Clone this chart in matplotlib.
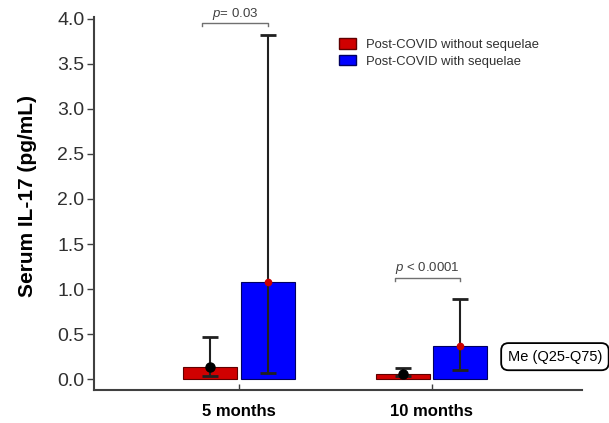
import matplotlib
matplotlib.use('Agg')
import matplotlib.pyplot as plt
from matplotlib.patches import Patch
import numpy as np

plt.rcParams['font.family'] = ['Liberation Sans', 'DejaVu Sans']
plt.rcParams['mathtext.fontset'] = 'custom'
plt.rcParams['mathtext.it'] = 'Liberation Sans:italic'
plt.rcParams['mathtext.rm'] = 'Liberation Sans'

# data: median (bar), Q25 and Q75 (error bars)
groups = ['5 months', '10 months']
series = ['Post-COVID without sequelae', 'Post-COVID with sequelae']
median_without = [0.14, 0.06]
q25_without = [0.03, 0.03]
q75_without = [0.47, 0.12]
median_with = [1.08, 0.37]
q25_with = [0.07, 0.10]
q75_with = [3.82, 0.89]
p_labels = ['$p$= 0.03', '$p$ < 0.0001']
yticks = [0.0, 0.5, 1.0, 1.5, 2.0, 2.5, 3.0, 3.5, 4.0]

red = '#d00000'
blue = '#0000ff'
gray = '#404040'

fig = plt.figure(figsize=(6.09, 4.23), dpi=100)
ax = fig.add_axes([94/609, 1-390/423, (582-94)/609, (390-17)/423])

x = np.arange(len(groups))
off = 0.15
w = 0.28

ax.bar(x - off, median_without, w, color=red, edgecolor='#600000', linewidth=0.8, zorder=2)
ax.bar(x + off, median_with, w, color=blue, edgecolor='#000060', linewidth=0.8, zorder=2)

err_wo = [np.array(median_without) - np.array(q25_without), np.array(q75_without) - np.array(median_without)]
err_w = [np.array(median_with) - np.array(q25_with), np.array(q75_with) - np.array(median_with)]
ax.errorbar(x - off, median_without, yerr=err_wo, fmt='o', color='black', ms=6.5,
            ecolor='#202020', elinewidth=1.5, capsize=6, capthick=2, zorder=3)
ax.errorbar(x + off, median_with, yerr=err_w, fmt='none',
            ecolor='#202020', elinewidth=1.5, capsize=6, capthick=2, zorder=3)
ax.plot(x + off, median_with, 'o', color='#cc0000', ms=4.5, zorder=4)

ax.set_xlim(-0.75, 1.78)
ax.set_ylim(-0.12, 4.02)
ax.set_yticks(yticks)
ax.set_yticklabels(['%.1f' % t for t in yticks], fontsize=14, color='#303030')
ax.set_xticks(x)
ax.set_xticklabels(groups, fontsize=12, fontweight='bold')
ax.tick_params(axis='y', direction='out', length=5, width=1, color=gray, pad=2)
ax.tick_params(axis='x', direction='in', length=4, width=1, color=gray, pad=10)
for s in ['top', 'right']:
    ax.spines[s].set_visible(False)
for s in ['left', 'bottom']:
    ax.spines[s].set_color(gray)
    ax.spines[s].set_linewidth(1.5)
ax.set_ylabel('Serum IL-17 (pg/mL)', fontsize=15, fontweight='bold')
ax.yaxis.set_label_coords(-0.117, 0.52)

# p-value brackets
for i, (lab, top) in enumerate(zip(p_labels, [3.95, 1.12])):
    x0, x1 = x[i] - 0.19, x[i] + 0.15
    ax.plot([x0, x0, x1, x1], [top - 0.03, top, top, top - 0.03], color='#707070', lw=1, clip_on=False)
    ax.text((x0 + x1) / 2, top + 0.02, lab, ha='center', va='bottom', fontsize=9.5, color='#404040')

handles = [Patch(facecolor=red, edgecolor='#600000'), Patch(facecolor=blue, edgecolor='#000060')]
fig.legend(handles, series, loc='upper left', bbox_to_anchor=(327/609, 1-26/423), frameon=False,
           fontsize=9.4, handlelength=1.3, handleheight=0.9, handletextpad=0.8, labelspacing=0.3,
           labelcolor='#303030')

ax.text(1.395, 0.25, 'Me (Q25-Q75)', fontsize=10.5, ha='left', va='center', clip_on=False,
        bbox=dict(boxstyle='round,pad=0.45,rounding_size=0.5', fc='white', ec='black', lw=1.3))

fig.savefig('out.png', dpi=100)
